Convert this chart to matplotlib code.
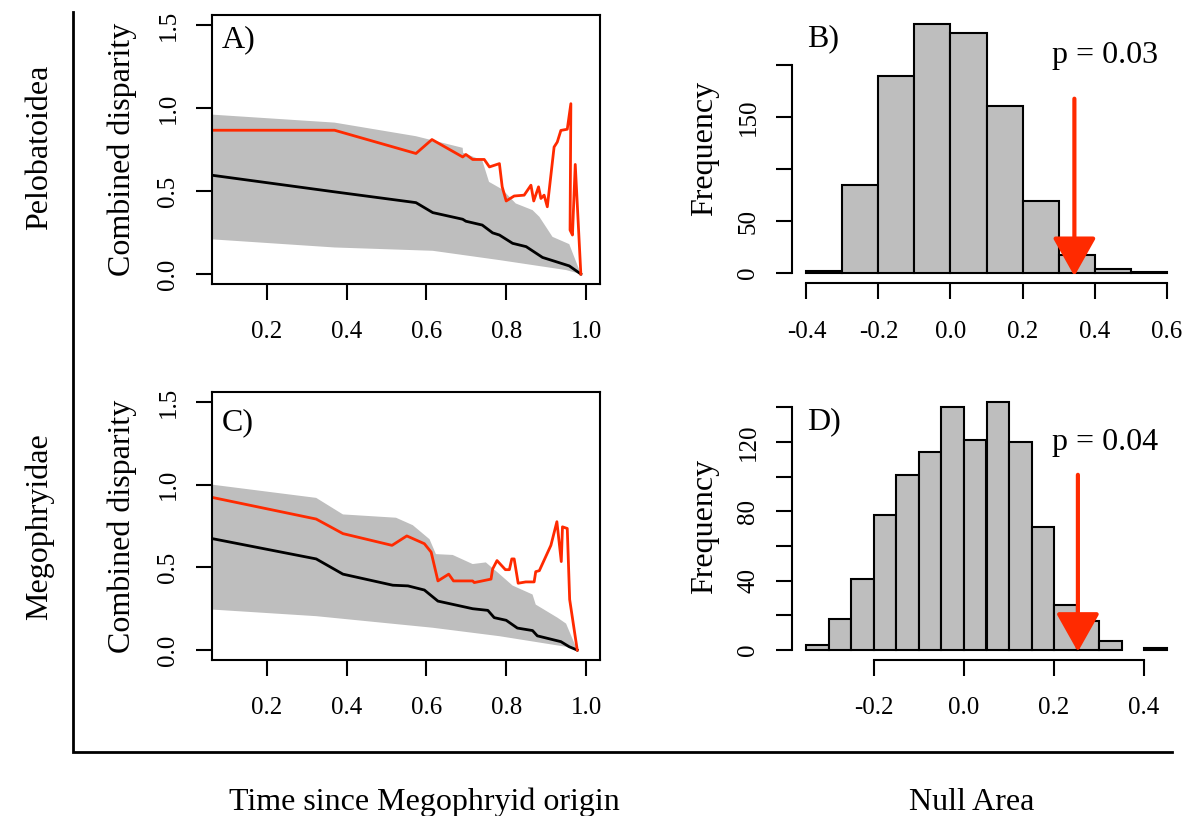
import numpy as np
import matplotlib
matplotlib.use("Agg")
import matplotlib.pyplot as plt
from matplotlib.lines import Line2D

plt.rcParams['font.family'] = ['Liberation Serif', 'DejaVu Serif']
plt.rcParams['axes.unicode_minus'] = False

# --- Disparity through time, Pelobatoidea (panel A) ---
a_upper_x = [0.063, 0.37, 0.574, 0.691, 0.692, 0.74, 0.757, 0.79, 0.824, 0.866, 0.883, 0.916, 0.958, 0.987]
a_upper_y = [0.96, 0.912, 0.83, 0.76, 0.73, 0.685, 0.555, 0.51, 0.425, 0.385, 0.345, 0.224, 0.18, 0.0]
a_lower_x = [0.063, 0.37, 0.616, 0.783, 0.95, 0.987]
a_lower_y = [0.209, 0.16, 0.14, 0.084, 0.024, 0.0]
a_mean_x = [0.063, 0.37, 0.574, 0.616, 0.691, 0.699, 0.74, 0.766, 0.783, 0.816, 0.85, 0.891, 0.924, 0.958, 0.987]
a_mean_y = [0.595, 0.495, 0.43, 0.37, 0.33, 0.318, 0.295, 0.248, 0.235, 0.185, 0.165, 0.10, 0.075, 0.049, 0.0]
a_obs_x = [0.063, 0.37, 0.574, 0.614, 0.691, 0.699, 0.716, 0.745, 0.758, 0.783, 0.79, 0.80, 0.82, 0.845,
           0.862, 0.869, 0.881, 0.887, 0.895, 0.903, 0.92, 0.928, 0.937, 0.953, 0.962, 0.96, 0.966, 0.973, 0.987]
a_obs_y = [0.866, 0.866, 0.726, 0.81, 0.705, 0.72, 0.69, 0.69, 0.645, 0.665, 0.525, 0.44, 0.47, 0.475,
           0.535, 0.44, 0.525, 0.455, 0.475, 0.405, 0.765, 0.795, 0.865, 0.872, 1.026, 0.265, 0.235, 0.66, 0.0]

# --- Disparity through time, Megophryidae (panel C) ---
c_upper_x = [0.063, 0.324, 0.391, 0.524, 0.566, 0.608, 0.624, 0.666, 0.716, 0.749, 0.783, 0.816, 0.866, 0.874, 0.929, 0.95, 0.978]
c_upper_y = [1.0, 0.92, 0.82, 0.80, 0.755, 0.67, 0.58, 0.575, 0.52, 0.53, 0.46, 0.39, 0.336, 0.275, 0.195, 0.16, 0.0]
c_lower_x = [0.063, 0.324, 0.616, 0.783, 0.95, 0.978]
c_lower_y = [0.245, 0.205, 0.135, 0.084, 0.02, 0.0]
c_mean_x = [0.063, 0.324, 0.391, 0.516, 0.554, 0.595, 0.629, 0.716, 0.754, 0.77, 0.8, 0.828, 0.866, 0.878, 0.937, 0.958, 0.978]
c_mean_y = [0.674, 0.551, 0.459, 0.392, 0.388, 0.363, 0.296, 0.25, 0.24, 0.196, 0.18, 0.133, 0.118, 0.086, 0.051, 0.02, 0.0]
c_obs_x = [0.063, 0.324, 0.391, 0.514, 0.551, 0.595, 0.612, 0.629, 0.656, 0.668, 0.716, 0.72, 0.762, 0.766, 0.777, 0.798,
           0.808, 0.814, 0.82, 0.83, 0.849, 0.87, 0.874, 0.883, 0.912, 0.927, 0.938, 0.941, 0.953, 0.959, 0.978]
c_obs_y = [0.923, 0.792, 0.704, 0.633, 0.69, 0.643, 0.592, 0.418, 0.459, 0.418, 0.418, 0.408, 0.429, 0.49, 0.541, 0.486,
           0.486, 0.551, 0.551, 0.404, 0.412, 0.412, 0.474, 0.48, 0.633, 0.776, 0.535, 0.745, 0.735, 0.306, 0.0]

time_ticks = [0.2, 0.4, 0.6, 0.8, 1.0]
time_labels = ['0.2', '0.4', '0.6', '0.8', '1.0']
disp_ticks = [0.0, 0.5, 1.0, 1.5]
disp_labels = ['0.0', '0.5', '1.0', '1.5']

# --- Null area histograms (panels B and D) ---
b_breaks = [-0.4, -0.3, -0.2, -0.1, 0.0, 0.1, 0.2, 0.3, 0.4, 0.5, 0.6]
b_counts = [2, 85, 190, 240, 231, 161, 69, 17, 4, 1]
b_xticks = [-0.4, -0.2, 0.0, 0.2, 0.4, 0.6]
b_xlabels = ['-0.4', '-0.2', '0.0', '0.2', '0.4', '0.6']
b_yticks = [0, 50, 100, 150, 200]
b_ylabels = ['0', '50', '', '150', '']
b_obs, b_arrow_top, b_arrow_tip = 0.344, 168, -3

d_breaks = [-0.35, -0.3, -0.25, -0.2, -0.15, -0.1, -0.05, 0.0, 0.05, 0.1, 0.15, 0.2, 0.25, 0.3, 0.35, 0.4, 0.45]
d_counts = [3, 18, 41, 78, 101, 114, 140, 121, 143, 120, 71, 26, 17, 5, 0, 1]
d_xticks = [-0.2, 0.0, 0.2, 0.4]
d_xlabels = ['-0.2', '0.0', '0.2', '0.4']
d_yticks = [0, 20, 40, 60, 80, 100, 120, 140]
d_ylabels = ['0', '', '40', '', '80', '', '120', '']
d_obs, d_arrow_top, d_arrow_tip = 0.253, 101, -1

RED = '#ff2a00'
GREY = '#bebebe'
W, H = 1185, 816


def px_box(x0, y0, x1, y1):
    # pixel box (top-left origin) -> figure fraction rect
    return [x0 / W, 1 - y1 / H, (x1 - x0) / W, (y1 - y0) / H]


def style_ticks(ax, yticks, ylabels, xticks, xlabels):
    ax.set_xticks(xticks)
    ax.set_xticklabels(xlabels)
    ax.set_yticks(yticks)
    ax.set_yticklabels(ylabels, rotation=90, va='center')
    ax.tick_params(direction='out', length=11.5, width=1.5, labelsize=18)
    ax.tick_params(axis='x', pad=15.5)
    ax.tick_params(axis='y', pad=12)
    for s in ax.spines.values():
        s.set_linewidth(1.5)


def disparity_panel(ax, up_x, up_y, lo_x, lo_y, mean_x, mean_y, obs_x, obs_y, tag, tag_y):
    # grey null envelope, black null mean, red observed
    ax.fill(np.r_[up_x, lo_x[::-1]], np.r_[up_y, lo_y[::-1]], color=GREY, lw=0)
    ax.plot(mean_x, mean_y, color='black', lw=2)
    ax.plot(obs_x, obs_y, color=RED, lw=2)
    ax.set_xlim(0.063, 1.035)
    ax.set_ylim(-0.06, 1.56)
    style_ticks(ax, disp_ticks, disp_labels, time_ticks, time_labels)
    ax.set_ylabel('Combined disparity', fontsize=23)
    ax.yaxis.set_label_coords(-0.193, 0.5)
    ax.text(0.025, tag_y, tag, transform=ax.transAxes, fontsize=23, va='baseline')


def null_panel(ax, breaks, counts, xticks, xlabels, yticks, ylabels, obs, top, tip, tag, tag_y, ptext, p_y):
    breaks = np.array(breaks)
    widths = np.diff(breaks)
    ax.bar(breaks[:-1], counts, width=widths, align='edge', color=GREY, edgecolor='black',
           linewidth=[0 if c == 0 else 1.5 for c in counts])
    rng = breaks[-1] - breaks[0]
    ax.set_xlim(breaks[0] - 0.04 * rng, breaks[-1] + 0.04 * rng)
    ax.set_ylim(-0.04 * max(counts), 1.04 * max(counts))
    style_ticks(ax, yticks, ylabels, xticks, xlabels)
    ax.spines['top'].set_visible(False)
    ax.spines['right'].set_visible(False)
    ax.spines['left'].set_bounds(yticks[0], yticks[-1])
    ax.spines['bottom'].set_bounds(xticks[0], xticks[-1])
    ax.set_ylabel('Frequency', fontsize=23)
    ax.yaxis.set_label_coords(-0.188, 0.5)
    ax.annotate('', xy=(obs, tip), xytext=(obs, top),
                arrowprops=dict(arrowstyle='-|>,head_length=2.4,head_width=1.35', color=RED, lw=3,
                                shrinkA=0, shrinkB=0, mutation_scale=10))
    ax.text(0.038, tag_y, tag, transform=ax.transAxes, fontsize=23, va='baseline')
    ax.text(0.668, p_y, ptext, transform=ax.transAxes, fontsize=23, va='baseline')


fig = plt.figure(figsize=(W / 100, H / 100), dpi=100)

ax_a = fig.add_axes(px_box(212, 15, 600, 284))
disparity_panel(ax_a, a_upper_x, a_upper_y, a_lower_x, a_lower_y, a_mean_x, a_mean_y, a_obs_x, a_obs_y, 'A)', 0.88)

ax_c = fig.add_axes(px_box(212, 392, 600, 660))
disparity_panel(ax_c, c_upper_x, c_upper_y, c_lower_x, c_lower_y, c_mean_x, c_mean_y, c_obs_x, c_obs_y, 'C)', 0.858)

ax_b = fig.add_axes(px_box(792, 14, 1181, 283))
null_panel(ax_b, b_breaks, b_counts, b_xticks, b_xlabels, b_yticks, b_ylabels,
           b_obs, b_arrow_top, b_arrow_tip, 'B)', 0.88, 'p = 0.03', 0.818)

ax_d = fig.add_axes(px_box(792, 392, 1181, 660))
null_panel(ax_d, d_breaks, d_counts, d_xticks, d_xlabels, d_yticks, d_ylabels,
           d_obs, d_arrow_top, d_arrow_tip, 'D)', 0.86, 'p = 0.04', 0.782)

# outer margin labels and the L-shaped frame
fig.text(54 / W, 1 - 147 / H, 'Pelobatoidea', rotation=90, rotation_mode='anchor',
         ha='center', va='bottom', fontsize=23)
fig.text(54 / W, 1 - 527 / H, 'Megophryidae', rotation=90, rotation_mode='anchor',
         ha='center', va='bottom', fontsize=23)
fig.text(424 / W, 1 - 810 / H, 'Time since Megophryid origin', ha='center', va='baseline', fontsize=23)
fig.text(972 / W, 1 - 810 / H, 'Null Area', ha='center', va='baseline', fontsize=23)
fig.add_artist(Line2D([73 / W, 73 / W, 1172 / W], [1 - 12 / H, 1 - 752 / H, 1 - 752 / H],
                      color='black', lw=2, solid_joinstyle='miter'))

fig.savefig('out.png', dpi=100)
